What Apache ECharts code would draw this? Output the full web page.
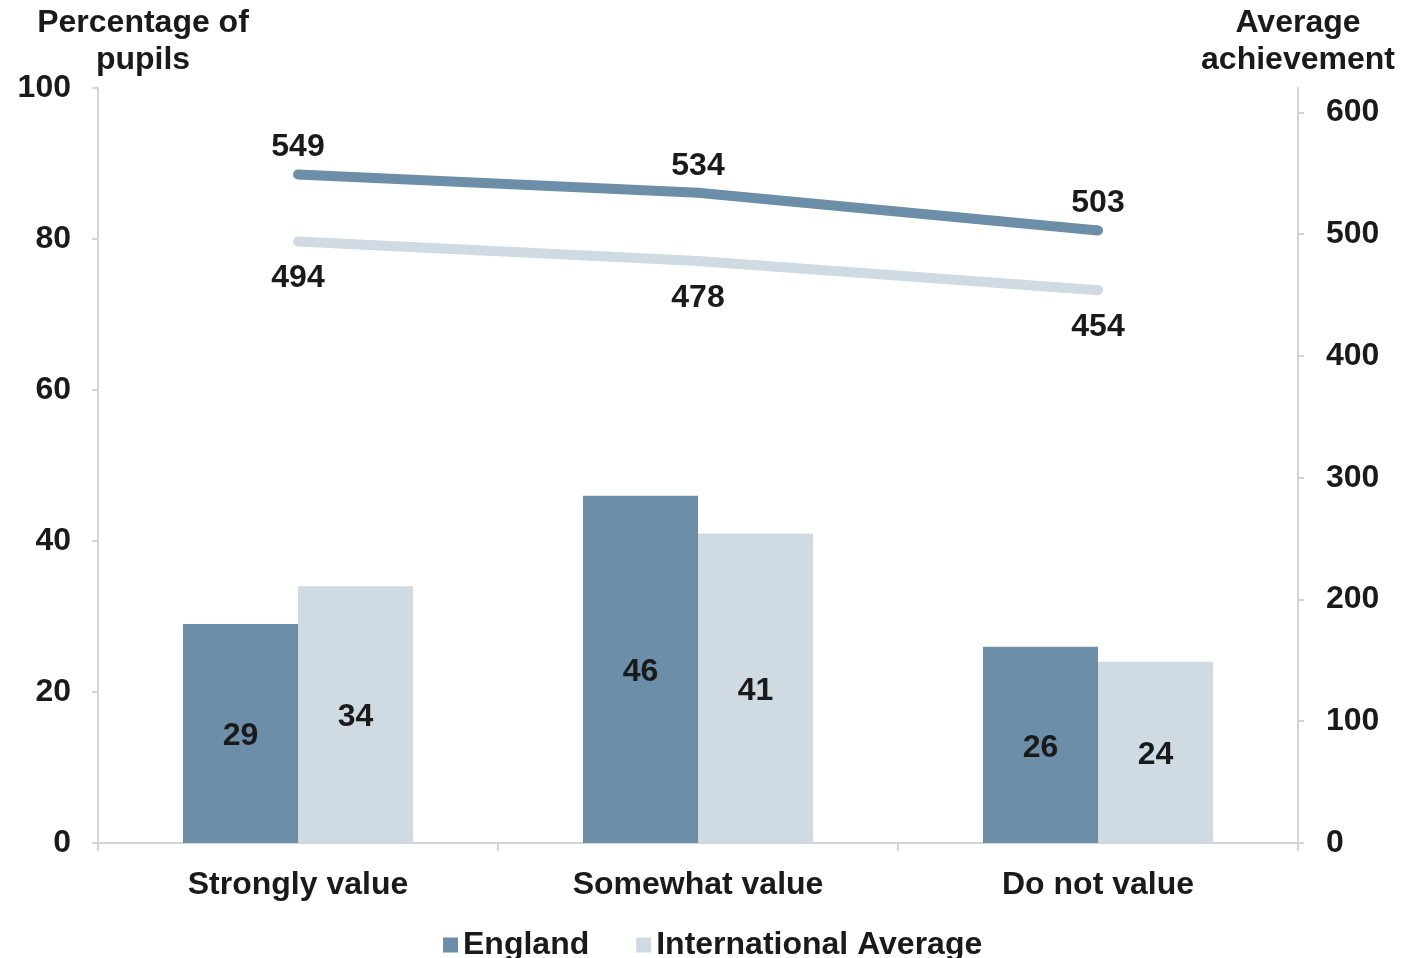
<!DOCTYPE html>
<html>
<head>
<meta charset="utf-8">
<title>Valuing the subject - pupils and achievement</title>
<script src="https://cdn.jsdelivr.net/npm/echarts@6/dist/echarts.min.js"></script>
<style>
  html, body { margin: 0; padding: 0; background: #fff; }
  #chart { width: 1402px; height: 958px; }
</style>
</head>
<body>
<div id="chart"></div>
<script>
// data
const categories = ['Strongly value', 'Somewhat value', 'Do not value'];
const englandPct = [29, 46, 26];
const intlPct = [34, 41, 24];
const englandScore = [549, 534, 503];
const intlScore = [494, 478, 454];
const leftTicks = [0, 20, 40, 60, 80, 100];
const rightTicks = [0, 100, 200, 300, 400, 500, 600];

const FONT = '"Liberation Sans", Arial, sans-serif';
const AXIS_GREY = '#D4D4D4';
const DARK = '#6C8EA8';
const LIGHT = '#CFDAE3';

const textBase = { fontFamily: FONT, fontWeight: 'bold', fontSize: 32, color: '#1a1a1a' };

const chart = echarts.init(document.getElementById('chart'));

chart.setOption({
  backgroundColor: '#fff',
  animation: false,
  textStyle: { fontFamily: FONT },
  grid: { left: 98, right: 104, top: 88, bottom: 115 },
  legend: {
    data: ['England', 'International Average'],
    left: 438,
    top: 924,
    icon: 'rect',
    itemWidth: 15,
    itemHeight: 15,
    itemGap: 47,
    textStyle: textBase
  },
  graphic: [
    {
      type: 'text', x: 143, y: 5,
      style: { text: 'Percentage of\npupils', align: 'center', lineHeight: 37, fill: '#1a1a1a', font: 'bold 32px ' + FONT }
    },
    {
      type: 'text', x: 1298, y: 5,
      style: { text: 'Average\nachievement', align: 'center', lineHeight: 37, fill: '#1a1a1a', font: 'bold 32px ' + FONT }
    }
  ],
  xAxis: {
    type: 'category',
    data: categories,
    axisLine: { lineStyle: { color: AXIS_GREY, width: 2 } },
    axisTick: { show: true, length: 8, lineStyle: { color: AXIS_GREY, width: 2 } },
    axisLabel: Object.assign({ margin: 26 }, textBase)
  },
  yAxis: [
    {
      type: 'value',
      min: 0, max: 100, interval: 20,
      axisLine: { show: true, lineStyle: { color: AXIS_GREY, width: 2 } },
      axisTick: { show: true, length: 6, lineStyle: { color: AXIS_GREY, width: 2 } },
      splitLine: { show: false },
      axisLabel: Object.assign({ margin: 27, customValues: leftTicks }, textBase)
    },
    {
      type: 'value',
      min: 0, max: 620,
      position: 'right',
      axisLine: { show: true, lineStyle: { color: AXIS_GREY, width: 2 } },
      axisTick: { show: true, length: 6, customValues: rightTicks, lineStyle: { color: AXIS_GREY, width: 2 } },
      splitLine: { show: false },
      axisLabel: Object.assign({ margin: 28, customValues: rightTicks }, textBase)
    }
  ],
  series: [
    {
      name: 'England',
      type: 'bar',
      data: englandPct,
      barGap: '0%',
      barCategoryGap: '42.5%',
      itemStyle: { color: DARK },
      label: Object.assign({ show: true, position: 'inside', offset: [0, 3] }, textBase)
    },
    {
      name: 'International Average',
      type: 'bar',
      data: intlPct,
      itemStyle: { color: LIGHT },
      label: Object.assign({ show: true, position: 'inside', offset: [0, 3] }, textBase)
    },
    {
      name: 'England achievement',
      type: 'line',
      yAxisIndex: 1,
      data: englandScore,
      symbol: 'circle',
      symbolSize: 10,
      itemStyle: { color: DARK },
      lineStyle: { color: DARK, width: 10 },
      label: Object.assign({ show: true, position: 'top', distance: 6 }, textBase),
      z: 3
    },
    {
      name: 'International achievement',
      type: 'line',
      yAxisIndex: 1,
      data: intlScore,
      symbol: 'circle',
      symbolSize: 10,
      itemStyle: { color: LIGHT },
      lineStyle: { color: LIGHT, width: 10 },
      label: Object.assign({ show: true, position: 'bottom', distance: 16 }, textBase),
      z: 3
    }
  ]
});
</script>
</body>
</html>
